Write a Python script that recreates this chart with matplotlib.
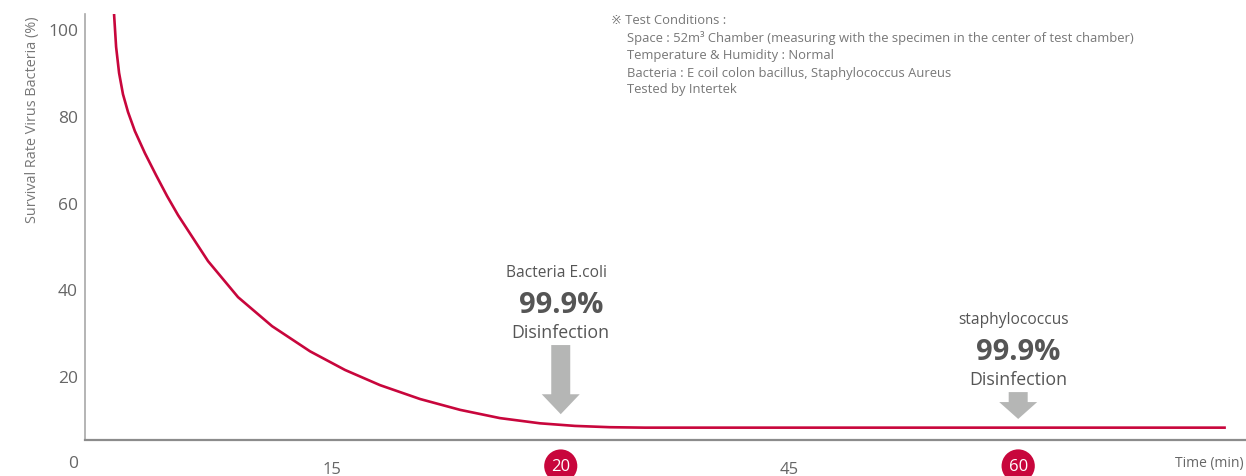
import matplotlib
matplotlib.use("Agg")
import matplotlib.pyplot as plt
from matplotlib.patches import FancyArrow

plt.rcParams['font.family'] = ['Open Sans', 'DejaVu Sans']

# survival curve, x in tick-slot units (slot 1 = "15", 2 = "20", 3 = "45", 4 = "60")
curve_x = [0.047, 0.056, 0.069, 0.086, 0.108, 0.138, 0.182, 0.231, 0.279, 0.327,
           0.458, 0.589, 0.738, 0.904, 1.057, 1.210, 1.385, 1.560, 1.734, 1.909,
           2.062, 2.215, 2.368, 4.908]
curve_y = [103.5, 95.9, 89.9, 85.0, 80.9, 76.5, 71.4, 66.3, 61.5, 57.1,
           46.5, 38.2, 31.5, 25.7, 21.4, 17.9, 14.7, 12.2, 10.3, 9.1,
           8.5, 8.2, 8.1, 8.1]

x_ticks = [1, 2, 3, 4]
x_labels = ['15', '20', '45', '60']
x_marked = ['20', '60']
y_ticks = [20, 40, 60, 80, 100]

callouts = [
    # (slot, title, value, arrow top, arrow tip)
    (2, 'Bacteria E.coli', '99.9%', 27.15, 11.2),
    (4, 'staphylococcus', '99.9%', 16.3, 10.1),
]

conditions = [
    '※ Test Conditions :',
    'Space : 52m³ Chamber (measuring with the specimen in the center of test chamber)',
    'Temperature & Humidity : Normal',
    'Bacteria : E coil colon bacillus, Staphylococcus Aureus',
    'Tested by Intertek',
]

RED = '#c8063c'
GREY_TXT = '#555555'
ARROW = '#b5b6b5'

fig = plt.figure(figsize=(12.46, 4.77), dpi=100)
ax = fig.add_axes([85 / 1246, 36 / 477, 1161 / 1246, 426 / 477])

ax.plot(curve_x, curve_y, color=RED, lw=1.9, solid_capstyle='butt',
        solid_joinstyle='round', zorder=3)

ax.set_xlim(-0.080, 4.996)
ax.set_ylim(5.25, 103.5)

for s in ['top', 'right']:
    ax.spines[s].set_visible(False)
ax.spines['left'].set_color('#a8a8a8')
ax.spines['left'].set_linewidth(1.2)
ax.spines['bottom'].set_color('#8c8c8c')
ax.spines['bottom'].set_linewidth(1.6)

ax.set_yticks(y_ticks)
ax.tick_params(axis='y', length=0, pad=5, labelsize=12.5, labelcolor='#666666')
ax.set_xticks([])
ax.text(-0.006, 0, '0', transform=ax.get_yaxis_transform(), ha='right', va='center',
        fontsize=12.5, color='#666666', clip_on=False)

xt = ax.get_xaxis_transform()
for pos, lab in zip(x_ticks, x_labels):
    if lab in x_marked:
        ax.text(pos, -0.061, lab, transform=xt, ha='center', va='center', fontsize=12,
                color='white', clip_on=False,
                bbox=dict(boxstyle='circle,pad=0.42', fc=RED, ec='none'))
    else:
        ax.text(pos, -0.069, lab, transform=xt, ha='center', va='center', fontsize=12,
                color='#666666', clip_on=False)

ax.text(0.998, -0.052, 'Time (min)', transform=ax.transAxes, ha='right', va='center',
        fontsize=10, color='#666666', clip_on=False)
ax.text(-0.0448, 0.755, 'Survival Rate Virus Bacteria (%)', transform=ax.transAxes,
        rotation=90, ha='center', va='center', fontsize=10.4, color='#777777')

# callouts with down arrows
for slot, title, val, top, tip in callouts:
    head = 4.6 if top - tip > 10 else 3.9
    ax.add_patch(FancyArrow(slot, top, 0, tip - top, width=0.083, head_width=0.166,
                            head_length=head, length_includes_head=True,
                            fc=ARROW, ec='none', zorder=2))
    ax.text(slot - 0.02, top + 16.9, title, ha='center', va='center', fontsize=11.2,
            color=GREY_TXT)
    ax.text(slot, top + 9.3, val, ha='center', va='center', fontsize=21,
            fontweight='bold', color=GREY_TXT)
    ax.text(slot, top + 3.1, 'Disinfection', ha='center', va='center', fontsize=12.8,
            color=GREY_TXT)

# test conditions block
line_y = [21, 38, 56, 73, 90]
for i, (txt, py) in enumerate(zip(conditions, line_y)):
    px = 611 if i == 0 else 627
    fig.text(px / 1246, 1 - py / 477, txt, ha='left', va='center', fontsize=9.35,
             color='#777777')

fig.savefig('out.png', dpi=100)
